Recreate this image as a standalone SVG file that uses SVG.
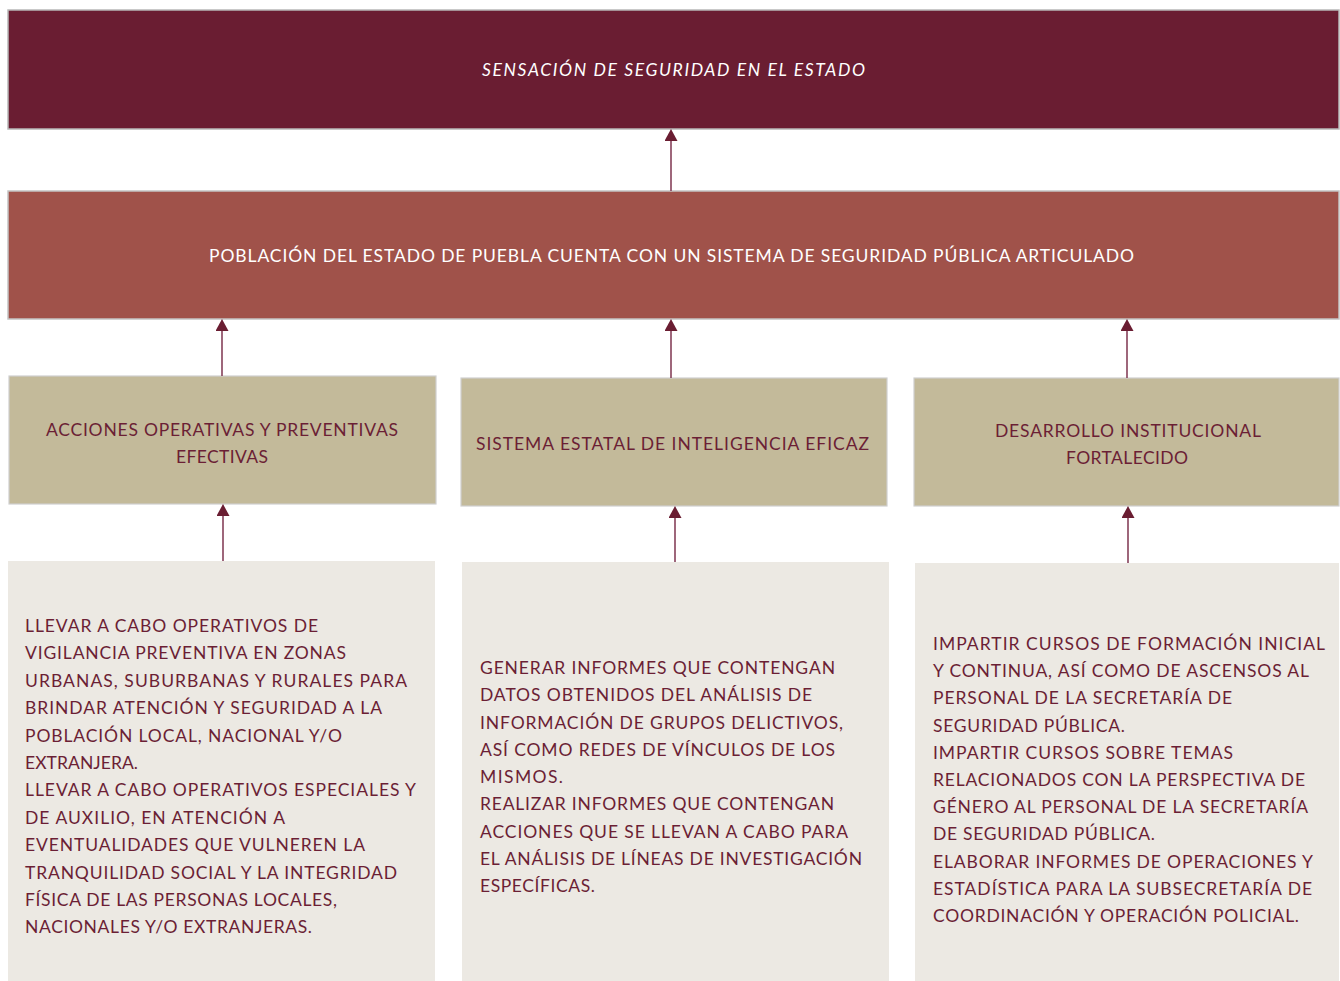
<svg xmlns="http://www.w3.org/2000/svg" width="1340" height="981" viewBox="0 0 1340 981">
<style>
.t{font-family:Lato,"Liberation Sans",sans-serif;font-size:17.5px;fill:#6B1F35}
.w{font-family:Lato,"Liberation Sans",sans-serif;font-size:17.5px;fill:#FFFFFF}
.it{font-style:italic}
.top{fill:#6A1D32;stroke:#B8B8B8;stroke-width:1.5}
.mid{fill:#A0524A;stroke:#C4C4C4;stroke-width:1.5}
.comp{fill:#C3BA9A;stroke:#CFCFCF;stroke-width:1.2}
.act{fill:#ECE9E3}
.con{stroke:#86405A;stroke-width:1.6;fill:none;marker-end:url(#ah)}
</style>
<defs>
<marker id="ah" viewBox="0 0 12 13" markerWidth="12" markerHeight="13" refX="0" refY="6.5" orient="auto" markerUnits="userSpaceOnUse">
<path d="M0,0 L12,6.5 L0,13 z" fill="#6A1D32"/>
</marker>
</defs>
<rect width="1340" height="981" fill="#FFFFFF"/>

<g id="fin">
<rect class="top" x="8" y="10" width="1331" height="119"/>
<text class="w it" x="482" y="76" textLength="383" lengthAdjust="spacing">SENSACIÓN DE SEGURIDAD EN EL ESTADO</text>
</g>

<g id="proposito">
<rect class="mid" x="8" y="191" width="1331" height="128"/>
<text class="w" x="209" y="262" textLength="925" lengthAdjust="spacing">POBLACIÓN DEL ESTADO DE PUEBLA CUENTA CON UN SISTEMA DE SEGURIDAD PÚBLICA ARTICULADO</text>
</g>

<g id="componente1">
<rect class="comp" x="9" y="376" width="427" height="128"/>
<text class="t" x="46" y="436" textLength="352" lengthAdjust="spacing">ACCIONES OPERATIVAS Y PREVENTIVAS</text>
<text class="t" x="176" y="463" textLength="92" lengthAdjust="spacing">EFECTIVAS</text>
</g>

<g id="componente2">
<rect class="comp" x="461" y="378" width="426" height="128"/>
<text class="t" x="476" y="450" textLength="393" lengthAdjust="spacing">SISTEMA ESTATAL DE INTELIGENCIA EFICAZ</text>
</g>

<g id="componente3">
<rect class="comp" x="914" y="378" width="425" height="128"/>
<text class="t" x="995" y="437" textLength="266" lengthAdjust="spacing">DESARROLLO INSTITUCIONAL</text>
<text class="t" x="1066" y="464" textLength="122" lengthAdjust="spacing">FORTALECIDO</text>
</g>

<g id="actividades1">
<rect class="act" x="8" y="561" width="427" height="420"/>
<text class="t" x="25" y="632" textLength="293" lengthAdjust="spacing">LLEVAR A CABO OPERATIVOS DE</text>
<text class="t" x="25" y="659.4" textLength="321" lengthAdjust="spacing">VIGILANCIA PREVENTIVA EN ZONAS</text>
<text class="t" x="25" y="686.8" textLength="382" lengthAdjust="spacing">URBANAS, SUBURBANAS Y RURALES PARA</text>
<text class="t" x="25" y="714.2" textLength="357" lengthAdjust="spacing">BRINDAR ATENCIÓN Y SEGURIDAD A LA</text>
<text class="t" x="25" y="741.6" textLength="317" lengthAdjust="spacing">POBLACIÓN LOCAL, NACIONAL Y/O</text>
<text class="t" x="25" y="769" textLength="113" lengthAdjust="spacing">EXTRANJERA.</text>
<text class="t" x="25" y="796.4" textLength="391" lengthAdjust="spacing">LLEVAR A CABO OPERATIVOS ESPECIALES Y</text>
<text class="t" x="25" y="823.8" textLength="260" lengthAdjust="spacing">DE AUXILIO, EN ATENCIÓN A</text>
<text class="t" x="25" y="851.2" textLength="340" lengthAdjust="spacing">EVENTUALIDADES QUE VULNEREN LA</text>
<text class="t" x="25" y="878.6" textLength="372" lengthAdjust="spacing">TRANQUILIDAD SOCIAL Y LA INTEGRIDAD</text>
<text class="t" x="25" y="906" textLength="312" lengthAdjust="spacing">FÍSICA DE LAS PERSONAS LOCALES,</text>
<text class="t" x="25" y="933.4" textLength="287" lengthAdjust="spacing">NACIONALES Y/O EXTRANJERAS.</text>
</g>

<g id="actividades2">
<rect class="act" x="462" y="562" width="427" height="419"/>
<text class="t" x="480" y="674" textLength="355" lengthAdjust="spacing">GENERAR INFORMES QUE CONTENGAN</text>
<text class="t" x="480" y="701.25" textLength="332" lengthAdjust="spacing">DATOS OBTENIDOS DEL ANÁLISIS DE</text>
<text class="t" x="480" y="728.5" textLength="363" lengthAdjust="spacing">INFORMACIÓN DE GRUPOS DELICTIVOS,</text>
<text class="t" x="480" y="755.75" textLength="355" lengthAdjust="spacing">ASÍ COMO REDES DE VÍNCULOS DE LOS</text>
<text class="t" x="480" y="783" textLength="83" lengthAdjust="spacing">MISMOS.</text>
<text class="t" x="480" y="810.25" textLength="354" lengthAdjust="spacing">REALIZAR INFORMES QUE CONTENGAN</text>
<text class="t" x="480" y="837.5" textLength="368" lengthAdjust="spacing">ACCIONES QUE SE LLEVAN A CABO PARA</text>
<text class="t" x="480" y="864.75" textLength="382" lengthAdjust="spacing">EL ANÁLISIS DE LÍNEAS DE INVESTIGACIÓN</text>
<text class="t" x="480" y="892" textLength="115" lengthAdjust="spacing">ESPECÍFICAS.</text>
</g>

<g id="actividades3">
<rect class="act" x="915" y="563" width="424" height="418"/>
<text class="t" x="933" y="650" textLength="392" lengthAdjust="spacing">IMPARTIR CURSOS DE FORMACIÓN INICIAL</text>
<text class="t" x="933" y="677.2" textLength="376" lengthAdjust="spacing">Y CONTINUA, ASÍ COMO DE ASCENSOS AL</text>
<text class="t" x="933" y="704.4" textLength="299" lengthAdjust="spacing">PERSONAL DE LA SECRETARÍA DE</text>
<text class="t" x="933" y="731.6" textLength="192" lengthAdjust="spacing">SEGURIDAD PÚBLICA.</text>
<text class="t" x="933" y="758.8" textLength="300" lengthAdjust="spacing">IMPARTIR CURSOS SOBRE TEMAS</text>
<text class="t" x="933" y="786" textLength="372" lengthAdjust="spacing">RELACIONADOS CON LA PERSPECTIVA DE</text>
<text class="t" x="933" y="813.2" textLength="375" lengthAdjust="spacing">GÉNERO AL PERSONAL DE LA SECRETARÍA</text>
<text class="t" x="933" y="840.4" textLength="222" lengthAdjust="spacing">DE SEGURIDAD PÚBLICA.</text>
<text class="t" x="933" y="867.6" textLength="380" lengthAdjust="spacing">ELABORAR INFORMES DE OPERACIONES Y</text>
<text class="t" x="933" y="894.8" textLength="379" lengthAdjust="spacing">ESTADÍSTICA PARA LA SUBSECRETARÍA DE</text>
<text class="t" x="933" y="922" textLength="366" lengthAdjust="spacing">COORDINACIÓN Y OPERACIÓN POLICIAL.</text>
</g>

<g id="connectors">
<line class="con" x1="671" y1="191" x2="671" y2="141"/>
<line class="con" x1="222" y1="376" x2="222" y2="331"/>
<line class="con" x1="671" y1="378" x2="671" y2="331"/>
<line class="con" x1="1127" y1="378" x2="1127" y2="331"/>
<line class="con" x1="223" y1="561" x2="223" y2="516"/>
<line class="con" x1="675" y1="562" x2="675" y2="518"/>
<line class="con" x1="1128" y1="563" x2="1128" y2="518"/>
</g>
</svg>
